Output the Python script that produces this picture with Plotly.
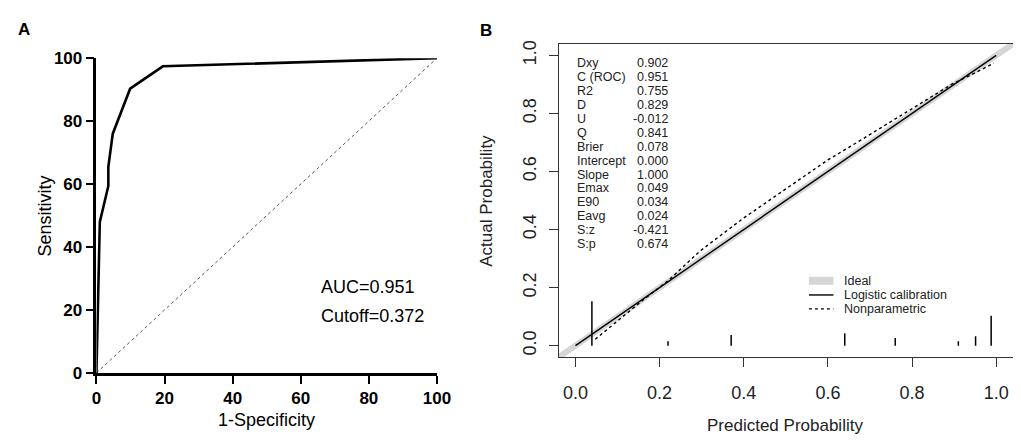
import plotly.graph_objects as go

# ---- panel A: ROC curve (percent) ----
roc_fpr = [0, 1.0, 3.5, 3.5, 4.8, 9.9, 19.5, 100]
roc_tpr = [0, 48.0, 59.4, 65.5, 76.0, 90.3, 97.4, 100]
ref_x = [0, 100]
ref_y = [0, 100]
auc_text = "AUC=0.951"
cutoff_text = "Cutoff=0.372"

# ---- panel B: calibration ----
ideal_x = [-0.04, 1.04]
ideal_y = [-0.04, 1.04]
logit_x = [0.0, 0.2, 0.4, 0.6, 0.8, 1.0]
logit_y = [0.0, 0.2, 0.4, 0.6, 0.8, 1.0]
nonpar_x = [0.047, 0.10, 0.163, 0.222, 0.296, 0.40, 0.49, 0.60, 0.669, 0.78, 0.895, 0.95, 0.994]
nonpar_y = [0.022, 0.085, 0.160, 0.226, 0.326, 0.44, 0.53, 0.64, 0.700, 0.80, 0.901, 0.94, 0.973]
rug_x = [0.039, 0.22, 0.37, 0.64, 0.76, 0.91, 0.951, 0.988]
rug_h = [0.153, 0.015, 0.037, 0.043, 0.026, 0.015, 0.032, 0.103]

stat_names = ["Dxy", "C (ROC)", "R2", "D", "U", "Q", "Brier", "Intercept",
              "Slope", "Emax", "E90", "Eavg", "S:z", "S:p"]
stat_vals = ["0.902", "0.951", "0.755", "0.829", "-0.012", "0.841", "0.078",
             "0.000", "1.000", "0.049", "0.034", "0.024", "-0.421", "0.674"]

legend_names = ["Ideal", "Logistic calibration", "Nonparametric"]

W, H = 1021, 440
FONT = "Liberation Sans, Arial, sans-serif"
B_COL = "#222222"


def px_x(p):
    return p / W


def px_y(p):
    return (H - p) / H


fig = go.Figure()

# panel A
fig.add_trace(go.Scatter(x=ref_x, y=ref_y, mode="lines", xaxis="x", yaxis="y",
                         line=dict(color="#555555", width=1, dash="dot"),
                         showlegend=False, hoverinfo="skip"))
fig.add_trace(go.Scatter(x=roc_fpr, y=roc_tpr, mode="lines", xaxis="x", yaxis="y",
                         line=dict(color="black", width=2.6),
                         showlegend=False))

# panel B
fig.add_trace(go.Scatter(x=ideal_x, y=ideal_y, mode="lines", xaxis="x2", yaxis="y2",
                         line=dict(color="#d6d6d6", width=6), name=legend_names[0],
                         showlegend=False))
fig.add_trace(go.Scatter(x=logit_x, y=logit_y, mode="lines", xaxis="x2", yaxis="y2",
                         line=dict(color="black", width=1.4), name=legend_names[1],
                         showlegend=False))
fig.add_trace(go.Scatter(x=nonpar_x, y=nonpar_y, mode="lines", xaxis="x2", yaxis="y2",
                         line=dict(color="black", width=1.4, dash="dot"), name=legend_names[2],
                         showlegend=False))

# rug of predicted probabilities along the bottom
rx, ry = [], []
for xv, hv in zip(rug_x, rug_h):
    rx += [xv, xv, None]
    ry += [0, hv, None]
fig.add_trace(go.Scatter(x=rx, y=ry, mode="lines", xaxis="x2", yaxis="y2",
                         line=dict(color="black", width=1.5),
                         showlegend=False, hoverinfo="skip"))

annotations = [
    dict(text="<b>A</b>", x=px_x(3), y=px_y(13), xanchor="left", yanchor="middle",
         font=dict(size=17, color="black")),
    dict(text="<b>B</b>", x=px_x(474), y=px_y(14), xanchor="left", yanchor="middle",
         font=dict(size=17, color="black")),
    dict(text="Sensitivity", x=px_x(33), y=px_y(208), textangle=-90,
         xanchor="center", yanchor="middle", font=dict(size=18, color="black")),
    dict(text="1-Specificity", x=px_x(258), y=px_y(421),
         xanchor="center", yanchor="middle", font=dict(size=18, color="black")),
    dict(text=auc_text, x=px_x(312), y=px_y(282), xanchor="left", yanchor="middle",
         font=dict(size=18, color="black")),
    dict(text=cutoff_text, x=px_x(312), y=px_y(313), xanchor="left", yanchor="middle",
         font=dict(size=18, color="black")),
    dict(text="Actual Probability", x=px_x(483), y=px_y(192), textangle=-90,
         xanchor="center", yanchor="middle", font=dict(size=17, color=B_COL)),
    dict(text="Predicted Probability", x=px_x(787), y=px_y(427),
         xanchor="center", yanchor="middle", font=dict(size=17, color=B_COL)),
]
for i, (n, v) in enumerate(zip(stat_names, stat_vals)):
    yy = px_y(48 + i * 14.58)
    annotations.append(dict(text=n, x=px_x(573), y=yy, xanchor="left", yanchor="middle",
                            font=dict(size=12.5, color=B_COL)))
    annotations.append(dict(text=v, x=px_x(669.5), y=yy, xanchor="right", yanchor="middle",
                            font=dict(size=12.5, color=B_COL)))

# hand-drawn legend in the lower right of panel B (R style, no frame)
leg_rows = [275.7, 290.5, 305.0]
leg_styles = [dict(color="#d6d6d6", width=8),
              dict(color="black", width=1.4),
              dict(color="black", width=1.4, dash="dot")]
shapes = []
for name, row, st in zip(legend_names, leg_rows, leg_styles):
    shapes.append(dict(type="line", xref="paper", yref="paper",
                       x0=px_x(811), x1=px_x(836), y0=px_y(row), y1=px_y(row), line=st))
    annotations.append(dict(text=name, x=px_x(845), y=px_y(row), xanchor="left",
                            yanchor="middle", font=dict(size=12.5, color=B_COL)))

for a in annotations:
    a.update(xref="paper", yref="paper", showarrow=False)

axA = dict(showline=True, linecolor="black", linewidth=2.5, ticks="outside",
           ticklen=8, tickwidth=2.2, tickcolor="black", showgrid=False, zeroline=False,
           tickfont=dict(size=17, color="black", weight="bold"),
           tickvals=[0, 20, 40, 60, 80, 100])
axB = dict(showline=True, mirror=True, linecolor="#333333", linewidth=1.3,
           ticks="outside", ticklen=9, tickwidth=1.2, tickcolor="#333333",
           showgrid=False, zeroline=False, range=[-0.04, 1.04],
           tickfont=dict(size=18, color=B_COL),
           tickvals=[0, 0.2, 0.4, 0.6, 0.8, 1.0],
           ticktext=["0.0", "0.2", "0.4", "0.6", "0.8", "1.0"])

fig.update_layout(
    width=W, height=H,
    margin=dict(l=0, r=0, t=0, b=0),
    paper_bgcolor="white", plot_bgcolor="white",
    font=dict(family=FONT, color="black"),
    showlegend=False,
    xaxis=dict(axA, domain=[px_x(85), px_x(432)], range=[0, 100], anchor="y"),
    yaxis=dict(axA, domain=[px_y(372), px_y(43)], range=[0, 100], anchor="x"),
    xaxis2=dict(axB, domain=[px_x(556), px_x(1019)], anchor="y2", ticklabelstandoff=10),
    yaxis2=dict(axB, domain=[px_y(355.6), px_y(28)], anchor="x2", tickangle=-90,
                ticklabelstandoff=5),
    annotations=annotations,
    shapes=shapes,
)

fig.write_html("out.html")
